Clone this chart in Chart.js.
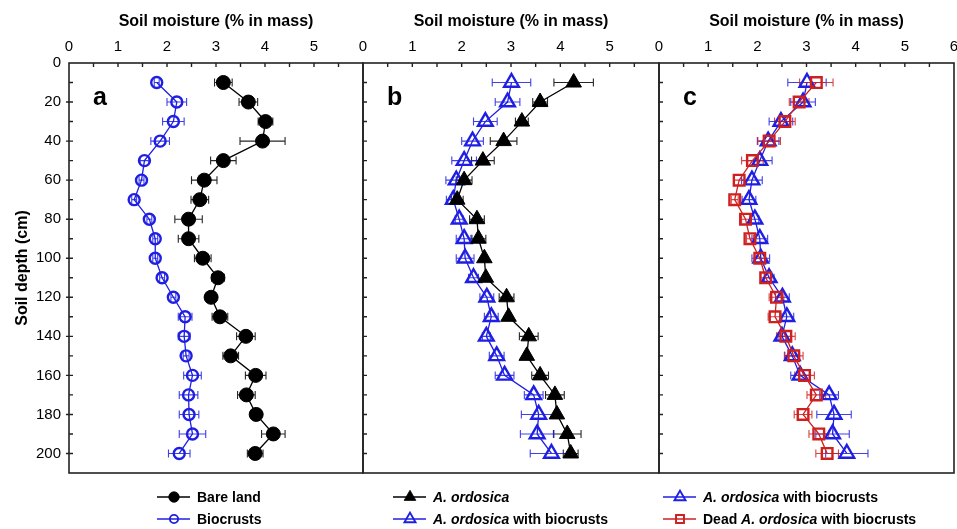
<!DOCTYPE html>
<html>
<head>
<meta charset="utf-8">
<script src="https://cdn.jsdelivr.net/npm/chart.js@4.4.1/dist/chart.umd.min.js"></script>
<style>
  body { margin: 0; background: #fff; }
  #wrap { position: relative; width: 957px; height: 529px; }
  #wrap canvas { position: absolute; left: 0; top: 0; }
</style>
</head>
<body>
<div id="wrap">
  <canvas id="panelA" width="957" height="529"></canvas>
  <canvas id="panelB" width="957" height="529"></canvas>
  <canvas id="panelC" width="957" height="529"></canvas>
</div>
<script>
// soil depth (cm) of every sample
const depth = [10, 20, 30, 40, 50, 60, 70, 80, 90, 100, 110, 120, 130, 140, 150, 160, 170, 180, 190, 200];

// soil moisture (% in mass) and half-width of the error bars
const bareLand       = [3.15, 3.66, 4.01, 3.95, 3.15, 2.76, 2.67, 2.44, 2.44, 2.73, 3.04, 2.90, 3.08, 3.61, 3.30, 3.81, 3.62, 3.82, 4.17, 3.80];
const bareLandErr    = [0.18, 0.19, 0.15, 0.46, 0.26, 0.26, 0.18, 0.28, 0.21, 0.17, 0.13, 0.05, 0.16, 0.19, 0.16, 0.21, 0.18, 0.05, 0.24, 0.16];
const biocrusts      = [1.79, 2.20, 2.13, 1.86, 1.54, 1.48, 1.33, 1.64, 1.76, 1.76, 1.90, 2.13, 2.37, 2.35, 2.39, 2.52, 2.44, 2.45, 2.52, 2.25];
const biocrustsErr   = [0.05, 0.20, 0.22, 0.19, 0.09, 0.05, 0.05, 0.05, 0.05, 0.05, 0.05, 0.05, 0.14, 0.12, 0.06, 0.18, 0.19, 0.20, 0.27, 0.22];
const ordosica       = [4.27, 3.59, 3.22, 2.85, 2.43, 2.05, 1.91, 2.31, 2.34, 2.46, 2.49, 2.91, 2.95, 3.36, 3.32, 3.59, 3.89, 3.93, 4.14, 4.21];
const ordosicaErr    = [0.40, 0.15, 0.13, 0.27, 0.23, 0.16, 0.12, 0.15, 0.15, 0.05, 0.05, 0.15, 0.05, 0.19, 0.05, 0.17, 0.19, 0.05, 0.28, 0.15];
const ordosicaBio    = [3.01, 2.93, 2.48, 2.22, 2.05, 1.89, 1.83, 1.95, 2.05, 2.07, 2.24, 2.51, 2.60, 2.50, 2.71, 2.87, 3.46, 3.56, 3.53, 3.82];
const ordosicaBioErr = [0.39, 0.25, 0.24, 0.22, 0.25, 0.21, 0.14, 0.08, 0.16, 0.18, 0.10, 0.14, 0.14, 0.08, 0.15, 0.19, 0.19, 0.35, 0.34, 0.43];
const deadBio        = [3.20, 2.85, 2.56, 2.24, 1.90, 1.63, 1.54, 1.76, 1.85, 2.05, 2.17, 2.39, 2.36, 2.58, 2.74, 2.96, 3.20, 2.93, 3.25, 3.42];
const deadBioErr     = [0.34, 0.20, 0.21, 0.23, 0.22, 0.11, 0.07, 0.08, 0.07, 0.10, 0.10, 0.15, 0.14, 0.19, 0.19, 0.20, 0.19, 0.18, 0.20, 0.23];

// tick labels
const xTicks = [0, 1, 2, 3, 4, 5, 6];
const yTicks = [0, 20, 40, 60, 80, 100, 120, 140, 160, 180, 200];

const BLUE = '#1f1fe3';
const RED = '#cf2020';
const FONT = "'Liberation Sans', Arial, sans-serif";
Chart.defaults.font.family = FONT;
Chart.defaults.color = '#000';

function points(vals) {
    return depth.map(function (d, i) { return { x: vals[i], y: d }; });
}

// error bars, frame, inward ticks, panel letter and legend
var panelPlugin = {
    id: 'panel',
    beforeDatasetsDraw: function (chart) {
        var ctx = chart.ctx, xs = chart.scales.x, ys = chart.scales.y;
        ctx.save();
        chart.data.datasets.forEach(function (ds) {
            ctx.strokeStyle = ds.borderColor;
            ctx.globalAlpha = 0.85;
            ctx.lineWidth = 1.1;
            ds.data.forEach(function (p, j) {
                var e = ds.errorX[j];
                var x1 = xs.getPixelForValue(p.x - e), x2 = xs.getPixelForValue(p.x + e);
                var y = ys.getPixelForValue(p.y);
                ctx.beginPath();
                ctx.moveTo(x1, y); ctx.lineTo(x2, y);
                ctx.moveTo(x1, y - 4); ctx.lineTo(x1, y + 4);
                ctx.moveTo(x2, y - 4); ctx.lineTo(x2, y + 4);
                ctx.stroke();
            });
        });
        ctx.restore();
    },
    afterDraw: function (chart) {
        var ctx = chart.ctx, a = chart.chartArea, xs = chart.scales.x, ys = chart.scales.y;
        var opts = chart.options.plugins.panel;
        ctx.save();
        ctx.strokeStyle = '#222';
        ctx.lineWidth = 1.6;
        ctx.strokeRect(a.left, a.top, a.right - a.left, a.bottom - a.top);

        ctx.lineWidth = 1.4;
        ctx.beginPath();
        for (var v = 0.5; v < 6; v += 0.5) {
            var px = xs.getPixelForValue(v);
            ctx.moveTo(px, a.top); ctx.lineTo(px, a.top + 4);
        }
        for (var d = 10; d <= 200; d += 10) {
            var py = ys.getPixelForValue(d);
            var out = (opts.outTicks && d % 20 === 0) ? 3 : 0;
            ctx.moveTo(a.left - out, py); ctx.lineTo(a.left + 4, py);
        }
        ctx.stroke();

        ctx.fillStyle = '#000';
        ctx.font = 'bold 25px ' + FONT;
        ctx.textBaseline = 'middle';
        ctx.textAlign = 'left';
        ctx.fillText(opts.letter, a.left + 24, 98);

        // legend column under the panel
        var rows = [497, 519];
        chart.data.datasets.forEach(function (ds, i) {
            var x = opts.legendX, y = rows[i];
            ctx.strokeStyle = ds.borderColor;
            ctx.lineWidth = 1.3;
            ctx.beginPath(); ctx.moveTo(x, y); ctx.lineTo(x + 33, y); ctx.stroke();
            ctx.fillStyle = ds.pointBackgroundColor;
            ctx.lineWidth = ds.pointBorderWidth * 0.8;
            Chart.helpers.drawPoint(ctx, {
                pointStyle: ds.pointStyle, radius: ds.pointRadius * 0.75,
                rotation: 0, borderWidth: ds.pointBorderWidth
            }, x + 17, y);
            var tx = x + 40;
            ctx.fillStyle = '#000';
            ds.label.split(/(A\. ordosica)/).forEach(function (part) {
                if (!part) return;
                ctx.font = (part === 'A. ordosica' ? 'italic ' : '') + 'bold 14px ' + FONT;
                ctx.fillText(part, tx, y + 1);
                tx += ctx.measureText(part).width;
            });
        });
        ctx.restore();
    }
};

function makePanel(id, left, right, datasets, panelOpts) {
    var showY = panelOpts.showY;
    return new Chart(document.getElementById(id), {
        type: 'scatter',
        data: { datasets: datasets },
        options: {
            responsive: false,
            animation: false,
            events: [],
            layout: { autoPadding: false, padding: { left: 0, right: 957 - right, top: 0, bottom: 529 - 473 } },
            plugins: {
                legend: { display: false },
                tooltip: { enabled: false },
                panel: panelOpts
            },
            scales: {
                x: {
                    type: 'linear', position: 'top', min: 0, max: 6,
                    afterBuildTicks: function (s) { s.ticks = xTicks.map(function (v) { return { value: v }; }); },
                    afterFit: function (s) { s.height = 63; s.paddingLeft = 0; s.paddingRight = 0; },
                    grid: { display: false, drawTicks: false },
                    border: { display: false },
                    ticks: {
                        padding: 7, maxRotation: 0, font: { size: 15 },
                        callback: function (v) { return (v === 6 && !panelOpts.showSix) ? '' : String(v); }
                    },
                    title: {
                        display: true, text: 'Soil moisture (% in mass)',
                        font: { size: 16, weight: 'bold' }, padding: { top: 12, bottom: 0 }
                    }
                },
                y: {
                    type: 'linear', position: 'left', reverse: true, min: 0, max: 210,
                    afterBuildTicks: function (s) { s.ticks = yTicks.map(function (v) { return { value: v }; }); },
                    afterFit: function (s) { s.width = left; s.paddingTop = 0; s.paddingBottom = 0; },
                    grid: { display: false, drawTicks: false },
                    border: { display: false },
                    ticks: { display: showY, padding: 8, font: { size: 15 } },
                    title: {
                        display: showY, text: 'Soil depth (cm)',
                        font: { size: 16, weight: 'bold' }, padding: { top: 13, bottom: 0 }
                    }
                }
            }
        },
        plugins: [panelPlugin]
    });
}

function series(label, vals, err, color, style, filled, radius, order) {
    return {
        label: label,
        data: points(vals),
        errorX: err,
        showLine: true,
        order: order,
        borderColor: color,
        borderWidth: 1.3,
        backgroundColor: color,
        pointStyle: style,
        pointRadius: radius,
        pointBorderWidth: filled ? 1 : 2.4,
        pointBorderColor: color,
        pointBackgroundColor: filled ? color : 'rgba(255,255,255,0)'
    };
}

makePanel('panelA', 69, 363, [
    series('Bare land', bareLand, bareLandErr, '#000', 'circle', true, 7, 0),
    series('Biocrusts', biocrusts, biocrustsErr, BLUE, 'circle', false, 5.5, 1)
], { letter: 'a', legendX: 157, showY: true, outTicks: true, showSix: false });

makePanel('panelB', 363, 659, [
    series('A. ordosica', ordosica, ordosicaErr, '#000', 'triangle', true, 9, 0),
    series('A. ordosica with biocrusts', ordosicaBio, ordosicaBioErr, BLUE, 'triangle', false, 8.5, 1)
], { letter: 'b', legendX: 393, showY: false, outTicks: false, showSix: false });

makePanel('panelC', 659, 954, [
    series('A. ordosica with biocrusts', ordosicaBio, ordosicaBioErr, BLUE, 'triangle', false, 8.5, 1),
    series('Dead A. ordosica with biocrusts', deadBio, deadBioErr, RED, 'rect', false, 7.5, 0)
], { letter: 'c', legendX: 663, showY: false, outTicks: false, showSix: true });
</script>
</body>
</html>
